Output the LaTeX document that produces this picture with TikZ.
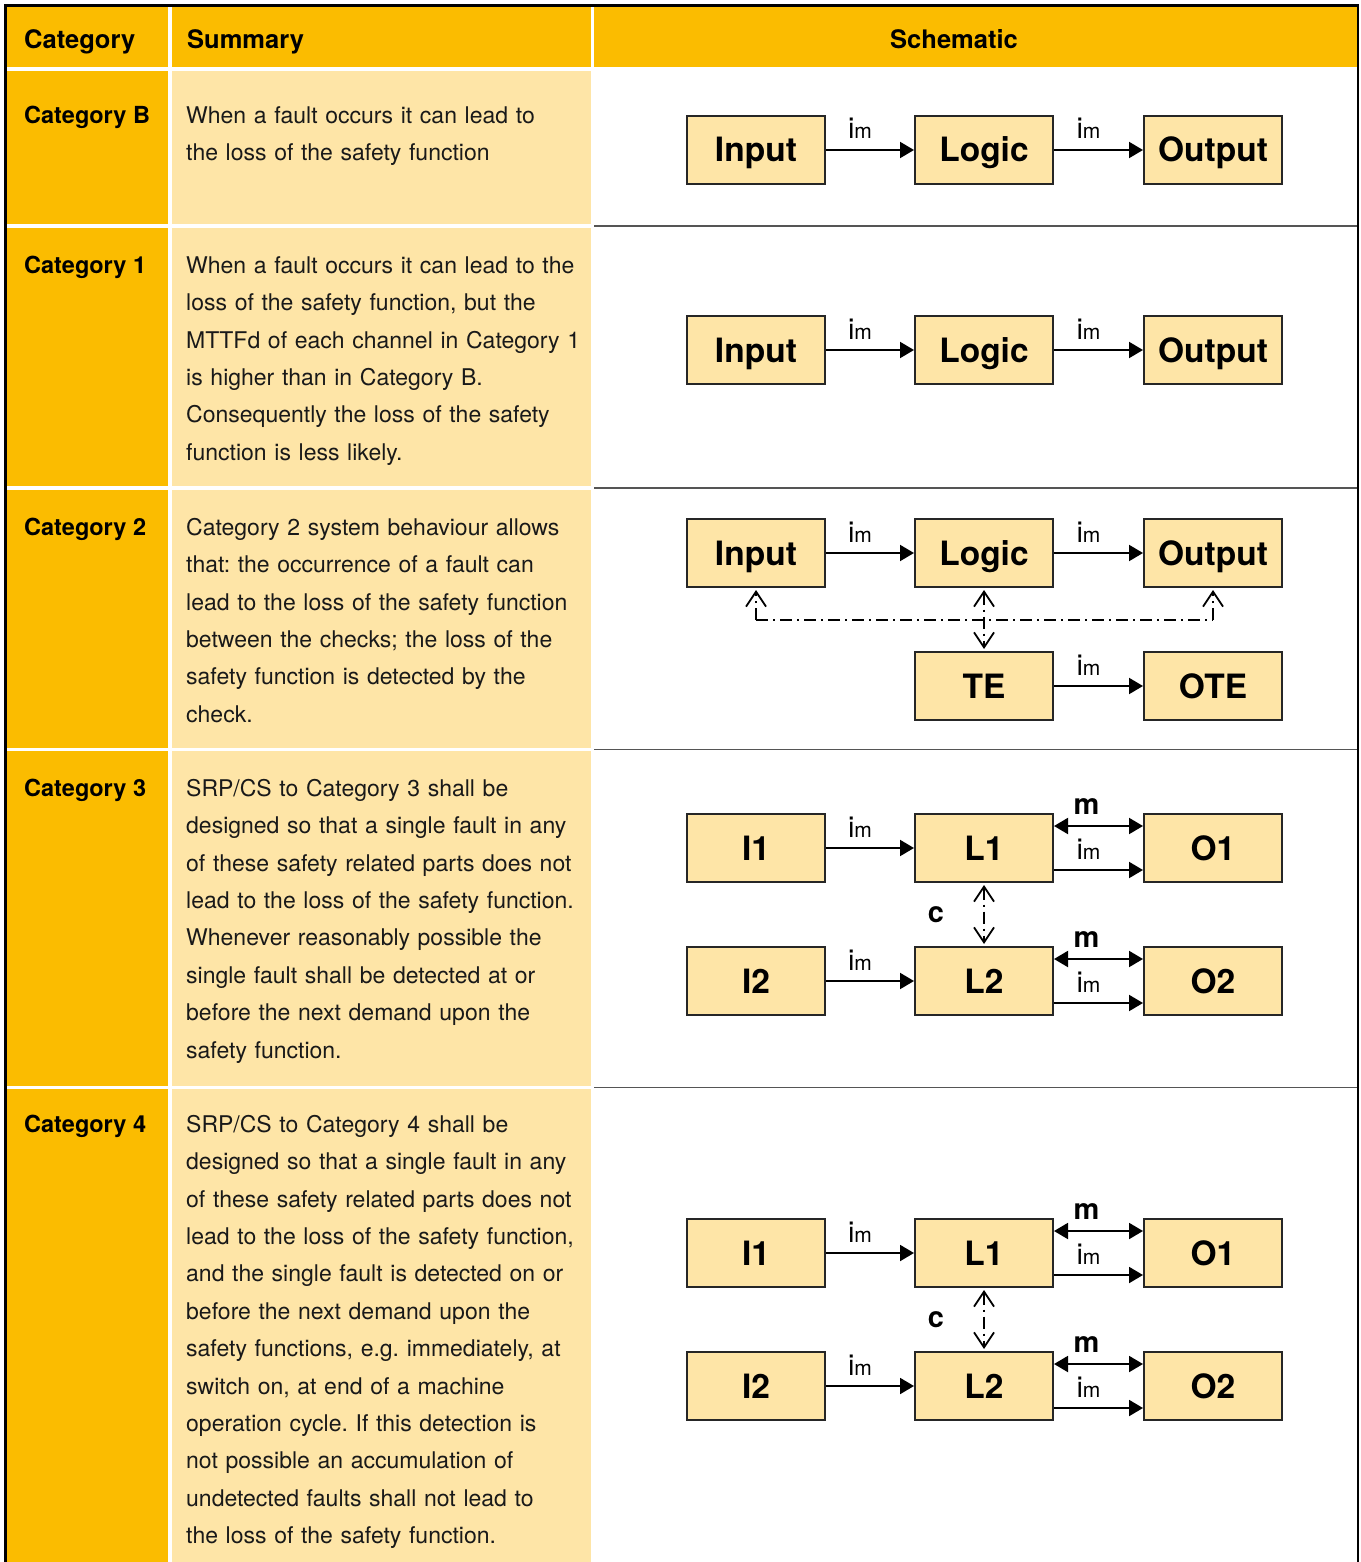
\documentclass[tikz,border=0pt]{standalone}
\usepackage{fontspec}
\setmainfont{TeX Gyre Heros}
\usetikzlibrary{arrows.meta,calc}
\definecolor{hdr}{HTML}{FBBC00}
\definecolor{lite}{HTML}{FEE5A7}
\definecolor{sepgray}{HTML}{555555}
\newcommand\imlab{{\fontsize{29}{29}\selectfont i}{\fontsize{21}{21}\selectfont m}}
\frenchspacing
\begin{document}
\begin{tikzpicture}[x=1pt,y=-1pt,
  blk/.style={draw=black!85, line width=2pt, fill=lite, minimum width=138pt, minimum height=68pt, inner sep=0pt, text height=24pt, text depth=0pt, font=\fontsize{33.5}{33.5}\selectfont\bfseries},
  arr/.style={line width=2pt, -{Triangle[length=14pt,width=16pt]}},
  darr/.style={line width=2pt, {Triangle[length=14pt,width=16pt]}-{Triangle[length=14pt,width=16pt]}},
  chk/.style={line width=1.6pt, dash pattern=on 12pt off 5pt on 2pt off 5pt},
  oarr/.style={chk, -{Straight Barb[length=15pt,width=20pt,line width=1.8pt]}, shorten >=2pt},
  odarr/.style={chk, {Straight Barb[length=15pt,width=20pt,line width=1.8pt]}-{Straight Barb[length=15pt,width=20pt,line width=1.8pt]}, shorten >=2pt, shorten <=2pt},
  hdrtxt/.style={font=\fontsize{25.5}{25.5}\selectfont\bfseries, inner sep=0pt},
  cattxt/.style={font=\fontsize{23.5}{23.5}\selectfont\bfseries, inner sep=0pt, anchor=base west},
  sumtxt/.style={font=\fontsize{23}{37.4}\selectfont, inner sep=0pt, anchor=base west, align=left, text width=405pt, text=black!90},
  imtxt/.style={midway, anchor=base, yshift=11pt, xshift=-10pt, inner sep=0pt},
  mtxt/.style={midway, anchor=base, yshift=12pt, xshift=-12pt, inner sep=0pt, font=\fontsize{29}{29}\selectfont\bfseries},
  ctxt/.style={font=\fontsize{29}{29}\selectfont\bfseries, inner sep=0pt, anchor=base}
]
\useasboundingbox (0,0) rectangle (1360,1562);
\clip (0,0) rectangle (1360,1562);
\fill[white] (0,0) rectangle (1360,1562);
% header cells
\fill[hdr] (7,7) rectangle (168,67);
\fill[hdr] (172,7) rectangle (591,67);
\fill[hdr] (594,7) rectangle (1357,67);
% body cells
\foreach \a/\b in {71.5/224, 228/486, 489.5/748, 751/1086, 1089/1580}{
  \fill[hdr] (7,\a) rectangle (168,\b);
  \fill[lite] (172,\a) rectangle (591,\b);
}
\foreach \y in {226, 487.7, 749.5, 1087.5}{
  \draw[sepgray, line width=1.8pt] (594,\y) -- (1357,\y);
}
% frame
\draw[line width=2.5pt] (5.5,1600) -- (5.5,5.5) -- (1358.2,5.5) -- (1358.2,1600);

% header texts
\node[hdrtxt, anchor=base west] (h1) at (24,48.3) {Category};
\node[hdrtxt, anchor=base west] (h2) at (187,48.3) {Summary};
\node[hdrtxt, anchor=base] (h3) at (954,48.3) {Schematic};

% category labels
\node[cattxt] (cB) at (24,123.3) {Category B};
\node[cattxt] (c1) at (24,273.3) {Category 1};
\node[cattxt] (c2) at (24,535.3) {Category 2};
\node[cattxt] (c3) at (24,796.3) {Category 3};
\node[cattxt] (c4) at (24,1132.3) {Category 4};

% summaries
\node[sumtxt] (sB) at (186,123.3) {When a fault occurs it can lead to\\the loss of the safety function};
\node[sumtxt] (s1) at (186,273.3) {When a fault occurs it can lead to the\\loss of the safety function, but the\\MTTFd of each channel in Category 1\\is higher than in Category B.\\Consequently the loss of the safety\\function is less likely.};
\node[sumtxt] (s2) at (186,535.3) {Category 2 system behaviour allows\\that: the occurrence of a fault can\\lead to the loss of the safety function\\between the checks; the loss of the\\safety function is detected by the\\check.};
\node[sumtxt] (s3) at (186,796.3) {SRP/CS to Category 3 shall be\\designed so that a single fault in any\\of these safety related parts does not\\lead to the loss of the safety function.\\Whenever reasonably possible the\\single fault shall be detected at or\\before the next demand upon the\\safety function.};
\node[sumtxt] (s4) at (186,1132.3) {SRP/CS to Category 4 shall be\\designed so that a single fault in any\\of these safety related parts does not\\lead to the loss of the safety function,\\and the single fault is detected on or\\before the next demand upon the\\safety functions, e.g. immediately, at\\switch on, at end of a machine\\operation cycle. If this detection is\\not possible an accumulation of\\undetected faults shall not lead to\\the loss of the safety function.};

% ---- Category B
\node[blk] (bI) at (756,150) {Input};
\node[blk] (bL) at (984,150) {Logic};
\node[blk] (bO) at (1213,150) {Output};
\draw[arr] (bI) -- (bL) node[imtxt] {\imlab};
\draw[arr] (bL) -- (bO) node[imtxt] {\imlab};

% ---- Category 1
\node[blk] (aI) at (756,350) {Input};
\node[blk] (aL) at (984,350) {Logic};
\node[blk] (aO) at (1213,350) {Output};
\draw[arr] (aI) -- (aL) node[imtxt] {\imlab};
\draw[arr] (aL) -- (aO) node[imtxt] {\imlab};

% ---- Category 2
\node[blk] (tI) at (756,553) {Input};
\node[blk] (tL) at (984,553) {Logic};
\node[blk] (tO) at (1213,553) {Output};
\node[blk] (tT) at (984,686) {TE};
\node[blk] (tX) at (1213,686) {OTE};
\draw[arr] (tI) -- (tL) node[imtxt] {\imlab};
\draw[arr] (tL) -- (tO) node[imtxt] {\imlab};
\draw[arr] (tT) -- (tX) node[imtxt] {\imlab};
\coordinate (tl) at (tI.south |- 0,620);
\coordinate (tr) at (tO.south |- 0,620);
\draw[chk] (tl) -- (tr);
\draw[oarr] (tl) -- (tI.south);
\draw[oarr] (tr) -- (tO.south);
\draw[odarr] (tL.south) -- (tT.north);

% ---- Category 3 and 4
\foreach \p/\y in {r/848, s/1253}{
  \node[blk] (\p I1) at (756,\y) {I1};
  \node[blk] (\p L1) at (984,\y) {L1};
  \node[blk] (\p O1) at (1213,\y) {O1};
  \node[blk] (\p I2) at (756,\y+133) {I2};
  \node[blk] (\p L2) at (984,\y+133) {L2};
  \node[blk] (\p O2) at (1213,\y+133) {O2};
  \draw[arr] (\p I1) -- (\p L1) node[imtxt] {\imlab};
  \draw[arr] (\p I2) -- (\p L2) node[imtxt] {\imlab};
  \draw[darr] ([yshift=-13pt]\p L1.north east) -- ([yshift=-13pt]\p O1.north west) node[mtxt] {m};
  \draw[arr] ([yshift=13pt]\p L1.south east) -- ([yshift=13pt]\p O1.south west) node[imtxt] {\imlab};
  \draw[darr] ([yshift=-13pt]\p L2.north east) -- ([yshift=-13pt]\p O2.north west) node[mtxt] {m};
  \draw[arr] ([yshift=13pt]\p L2.south east) -- ([yshift=13pt]\p O2.south west) node[imtxt] {\imlab};
  \draw[odarr] (\p L1.south) -- (\p L2.north) coordinate[midway] (\p cm);
  \node[ctxt] (\p c) at ($(\p cm)+(-48,8)$) {c};
}
\end{tikzpicture}
\end{document}
